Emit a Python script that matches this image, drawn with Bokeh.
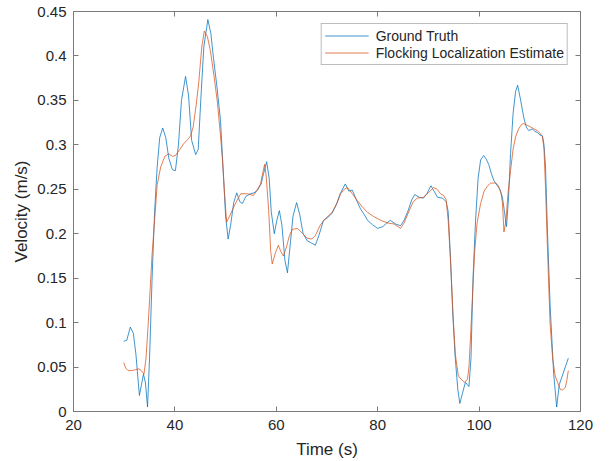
from bokeh.plotting import figure
from bokeh.models import LinearAxis, Range1d, FixedTicker, Legend, LegendItem
from bokeh.embed import file_html
from bokeh.resources import INLINE

# Ground truth velocity (time s, m/s)
gt_t = [29.9, 30.5, 31.2, 31.8, 32.3, 33.0, 33.4, 33.8, 34.2, 34.6, 35.0, 35.5, 36.0, 36.5, 37.0,
        37.6, 38.2, 38.8, 39.5, 40.1, 40.7, 41.3, 42.1, 42.7, 43.3, 44.1, 44.6, 45.1, 45.7, 46.5,
        47.1, 47.6, 48.3, 49.0, 49.6, 50.0, 50.5, 51.0, 51.6, 52.2, 52.8, 53.3, 54.0, 54.9, 55.6,
        56.3, 57.0, 57.5, 58.1, 58.6, 59.0, 59.6, 60.1, 60.6, 61.1, 61.7, 62.2, 62.7, 63.3, 64.0,
        64.6, 65.3, 66.1, 66.8, 67.7, 68.4, 69.3, 70.1, 71.0, 71.8, 72.6, 73.6, 74.3, 75.0, 75.8,
        76.6, 77.3, 78.0, 79.0, 80.0, 81.0, 81.8, 82.5, 83.5, 84.5, 85.2, 86.0, 86.7, 87.3, 88.2,
        89.0, 89.7, 90.5, 91.2, 91.8, 92.8, 93.5, 93.9, 94.3, 94.8, 95.3, 95.8, 96.2, 96.7, 97.3,
        97.7, 98.0, 98.4, 98.8, 99.3, 99.8, 100.3, 100.9, 101.4, 101.9, 102.4, 102.9, 103.6, 104.1,
        104.6, 105.0, 105.4, 105.8, 106.2, 106.7, 107.2, 107.6, 108.2, 108.8, 109.3, 109.8, 110.5,
        111.0, 111.5, 112.0, 112.5, 112.8, 113.1, 113.5, 114.0, 114.7, 115.3, 115.8, 116.4, 117.0,
        117.6]
gt_v = [0.079, 0.080, 0.095, 0.088, 0.065, 0.018, 0.030, 0.042, 0.032, 0.005, 0.060, 0.150, 0.225,
        0.275, 0.308, 0.319, 0.308, 0.285, 0.272, 0.271, 0.300, 0.350, 0.377, 0.355, 0.305, 0.289,
        0.295, 0.350, 0.410, 0.441, 0.425, 0.398, 0.365, 0.327, 0.263, 0.220, 0.194, 0.210, 0.235,
        0.246, 0.236, 0.234, 0.242, 0.245, 0.246, 0.249, 0.256, 0.268, 0.281, 0.262, 0.225, 0.200,
        0.215, 0.226, 0.210, 0.170, 0.156, 0.185, 0.220, 0.235, 0.222, 0.200, 0.192, 0.190, 0.187,
        0.198, 0.215, 0.218, 0.223, 0.232, 0.245, 0.256, 0.248, 0.249, 0.238, 0.228, 0.222, 0.215,
        0.210, 0.206, 0.208, 0.212, 0.215, 0.211, 0.209, 0.215, 0.226, 0.238, 0.244, 0.241, 0.240,
        0.245, 0.254, 0.247, 0.241, 0.240, 0.236, 0.225, 0.180, 0.110, 0.060, 0.025, 0.009, 0.020,
        0.033, 0.030, 0.028, 0.060, 0.150, 0.215, 0.262, 0.283, 0.288, 0.284, 0.278, 0.268, 0.260,
        0.254, 0.250, 0.241, 0.225, 0.208, 0.240, 0.290, 0.335, 0.360, 0.367, 0.350, 0.331, 0.320,
        0.316, 0.318, 0.315, 0.314, 0.311, 0.310, 0.300, 0.275, 0.200, 0.120, 0.043, 0.005, 0.030,
        0.040, 0.050, 0.060]

# Flocking localization estimate (time s, m/s)
est_t = [29.9, 30.3, 30.8, 31.5, 32.2, 32.9, 33.4, 33.9, 34.3, 34.7, 35.1, 35.5, 36.0, 36.5, 37.2,
         38.0, 38.8, 39.5, 40.1, 41.0, 41.7, 42.5, 43.1, 43.6, 44.2, 44.7, 45.3, 45.8, 46.4, 47.0,
         47.7, 48.4, 49.0, 49.4, 49.8, 50.2, 50.8, 51.6, 52.3, 53.0, 54.3, 55.5, 56.3, 56.9, 57.3,
         57.7, 58.0, 58.5, 58.9, 59.2, 59.8, 60.4, 60.9, 61.4, 62.0, 62.6, 63.2, 64.2, 65.2, 66.1,
         67.0, 67.7, 68.7, 69.7, 71.0, 72.0, 72.7, 73.4, 74.0, 75.0, 76.0, 77.0, 78.0, 79.3, 80.6,
         82.0, 83.2, 84.0, 84.5, 85.2, 86.0, 87.0, 87.8, 89.0, 90.0, 91.0, 91.7, 92.4, 93.0, 93.5,
         93.9, 94.4, 94.9, 95.3, 95.9, 96.5, 97.1, 97.7, 98.0, 98.3, 98.7, 99.1, 99.6, 100.3, 101.0,
         101.7, 102.3, 102.8, 103.3, 103.8, 104.3, 104.6, 104.9, 105.3, 105.7, 106.2, 106.7, 107.2,
         107.8, 108.4, 108.8, 109.5, 110.2, 110.8, 111.5, 112.0, 112.5, 112.8, 113.1, 113.5, 114.0,
         114.5, 115.0, 115.6, 116.0, 116.4, 117.0, 117.3, 117.6]
est_v = [0.055, 0.049, 0.046, 0.046, 0.047, 0.048, 0.046, 0.042, 0.060, 0.095, 0.135, 0.177, 0.215,
         0.255, 0.275, 0.287, 0.290, 0.287, 0.288, 0.295, 0.301, 0.306, 0.310, 0.320, 0.345, 0.370,
         0.410, 0.428, 0.422, 0.406, 0.378, 0.347, 0.310, 0.282, 0.245, 0.213, 0.220, 0.230, 0.238,
         0.245, 0.245, 0.243, 0.250, 0.256, 0.268, 0.278, 0.265, 0.226, 0.180, 0.166, 0.178, 0.187,
         0.180, 0.175, 0.185, 0.198, 0.205, 0.206, 0.200, 0.195, 0.194, 0.198, 0.210, 0.217, 0.224,
         0.235, 0.245, 0.250, 0.252, 0.245, 0.237, 0.230, 0.224, 0.219, 0.215, 0.212, 0.211, 0.208,
         0.206, 0.212, 0.223, 0.236, 0.240, 0.241, 0.246, 0.252, 0.250, 0.245, 0.243, 0.238, 0.215,
         0.166, 0.105, 0.065, 0.040, 0.036, 0.033, 0.036, 0.050, 0.083, 0.130, 0.178, 0.212, 0.234,
         0.248, 0.254, 0.257, 0.257, 0.257, 0.254, 0.246, 0.235, 0.202, 0.215, 0.245, 0.271, 0.295,
         0.309, 0.318, 0.323, 0.324, 0.322, 0.320, 0.318, 0.316, 0.313, 0.309, 0.295, 0.252, 0.180,
         0.099, 0.060, 0.040, 0.031, 0.025, 0.024, 0.027, 0.035, 0.046]

x_ticks = [20, 40, 60, 80, 100, 120]
y_ticks = [0, 0.05, 0.1, 0.15, 0.2, 0.25, 0.3, 0.35, 0.4, 0.45]
series_names = ["Ground Truth", "Flocking Localization Estimate"]
series_colors = ["#0072BD", "#D95319"]

FONT = "Liberation Sans"
TXT = "#262626"
AX = "#7a7a7a"

p = figure(width=600, height=461, output_backend="svg", toolbar_location=None,
           x_range=Range1d(20, 120), y_range=Range1d(0, 0.45),
           min_border_left=73, min_border_right=20, min_border_top=11, min_border_bottom=50,
           x_axis_label="Time (s)", y_axis_label="Velocity (m/s)")
p.grid.visible = False
p.outline_line_color = AX
p.outline_line_width = 1
p.background_fill_color = "white"
p.border_fill_color = "white"

for ax, ticks in ((p.xaxis[0], x_ticks), (p.yaxis[0], y_ticks)):
    ax.ticker = FixedTicker(ticks=ticks)
    ax.minor_tick_line_color = None
    ax.major_tick_in = 5
    ax.major_tick_out = 0
    ax.axis_line_color = AX
    ax.major_tick_line_color = AX
    ax.major_label_text_font = FONT
    ax.major_label_text_font_size = "15px"
    ax.major_label_text_color = TXT
    ax.axis_label_text_font = FONT
    ax.axis_label_text_font_size = "17px"
    ax.axis_label_text_font_style = "normal"
    ax.axis_label_text_color = TXT
p.xaxis[0].major_label_standoff = 8
p.xaxis[0].axis_label_standoff = 7
p.yaxis[0].major_label_standoff = 7
p.yaxis[0].axis_label_standoff = 3
p.yaxis[0].major_label_overrides = {0: "0"}

for side, ticks in (("above", x_ticks), ("right", y_ticks)):
    a = LinearAxis(ticker=FixedTicker(ticks=ticks))
    a.major_label_text_font_size = "1px"
    a.major_label_text_color = None
    a.major_label_standoff = 0
    a.major_tick_in = 5
    a.major_tick_out = 0
    a.minor_tick_line_color = None
    a.major_tick_line_color = AX
    a.axis_line_color = None
    p.add_layout(a, side)

r1 = p.line(gt_t, gt_v, line_color=series_colors[0], line_width=0.75)
r2 = p.line(est_t, est_v, line_color=series_colors[1], line_width=0.75)

legend = Legend(items=[LegendItem(label=series_names[0], renderers=[r1]),
                       LegendItem(label=series_names[1], renderers=[r2])],
                location="top_right")
legend.margin = 12
legend.padding = 3
legend.spacing = 0
legend.label_height = 17
legend.glyph_height = 17
legend.glyph_width = 44
legend.label_standoff = 7
legend.label_text_font = FONT
legend.label_text_font_size = "14px"
legend.label_text_color = TXT
legend.border_line_color = AX
legend.border_line_width = 1
legend.background_fill_color = "white"
legend.background_fill_alpha = 1
p.add_layout(legend, "center")

open("out.html", "w").write(file_html(p, INLINE))
